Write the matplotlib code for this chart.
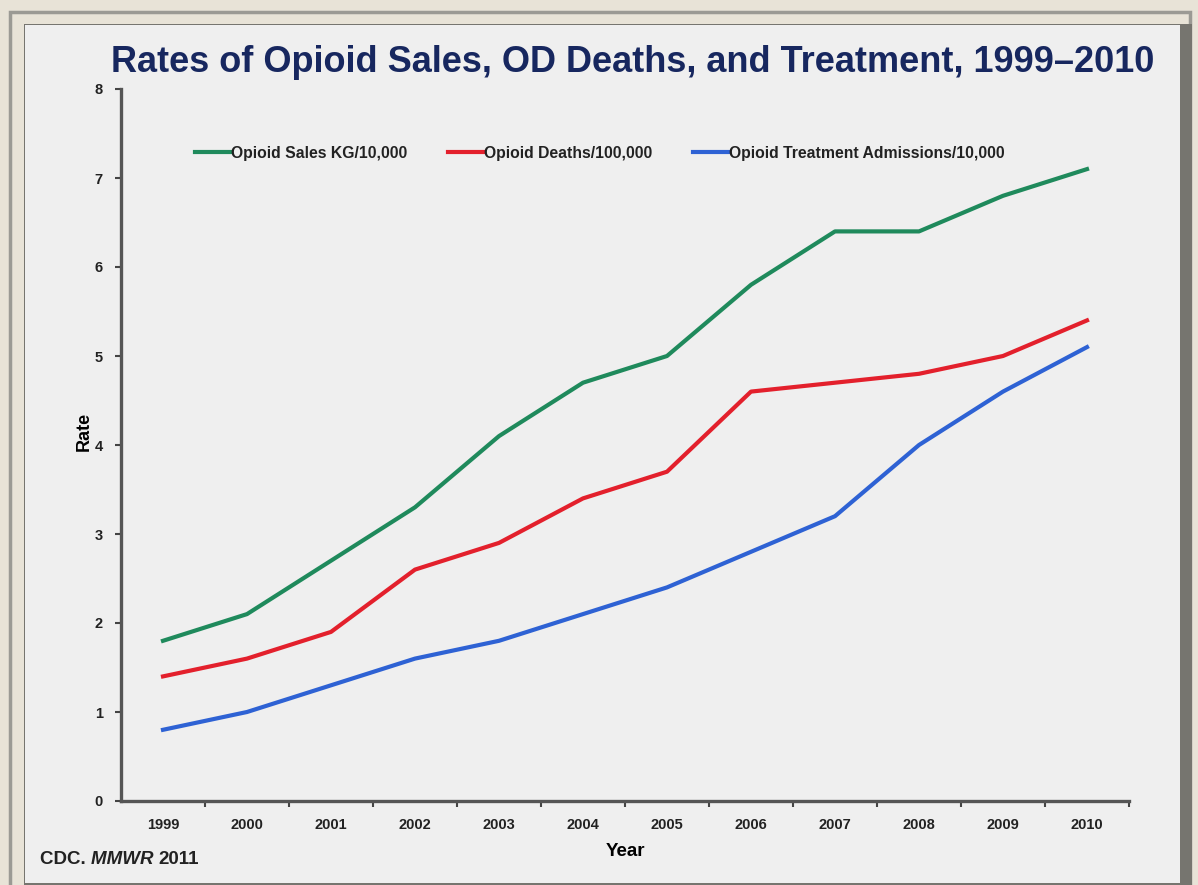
import matplotlib.pyplot as plt
from matplotlib.patches import Rectangle
from matplotlib.ticker import FixedLocator

years = ["1999", "2000", "2001", "2002", "2003", "2004",
         "2005", "2006", "2007", "2008", "2009", "2010"]
sales = [1.8, 2.1, 2.7, 3.3, 4.1, 4.7, 5.0, 5.8, 6.4, 6.4, 6.8, 7.1]
deaths = [1.4, 1.6, 1.9, 2.6, 2.9, 3.4, 3.7, 4.6, 4.7, 4.8, 5.0, 5.4]
admissions = [0.8, 1.0, 1.3, 1.6, 1.8, 2.1, 2.4, 2.8, 3.2, 4.0, 4.6, 5.1]

plt.rcParams['font.family'] = ['Liberation Sans', 'DejaVu Sans']

W, H = 1198, 885
fig = plt.figure(figsize=(W / 100, H / 100), dpi=100)
fig.patch.set_facecolor('#e8e3d7')

# frame and slide panel, in pixel units, kept behind the axes
def px_rect(x0, y0, x1, y1, **kw):
    fig.patches.append(Rectangle((x0 / W, 1 - y1 / H), (x1 - x0) / W, (y1 - y0) / H,
                                 transform=fig.transFigure, zorder=-5, **kw))

px_rect(10, 12, 1190, 890, facecolor='none', edgecolor='#9b9a94', linewidth=2.5)
px_rect(24, 24, 1192, 885, facecolor='#76756f', edgecolor='none')
px_rect(25, 25, 1180, 883, facecolor='#efefef', edgecolor='none')

ax = fig.add_axes([121 / W, 1 - 801 / H, (1129 - 121) / W, (801 - 89) / H])
ax.set_facecolor('none')

x = range(len(years))
ax.plot(x, sales, color='#1f8a5c', lw=3, label='Opioid Sales KG/10,000')
ax.plot(x, deaths, color='#e3202c', lw=3, label='Opioid Deaths/100,000')
ax.plot(x, admissions, color='#2e62d4', lw=3, label='Opioid Treatment Admissions/10,000')

ax.set_xlim(-0.5, len(years) - 0.5)
ax.set_ylim(0, 8)
ax.set_yticks(range(9))
ax.set_xticks(list(x))
ax.set_xticklabels(years)
ax.xaxis.set_minor_locator(FixedLocator([i + 0.5 for i in range(len(years))]))

for s in ['top', 'right']:
    ax.spines[s].set_visible(False)
for s in ['left', 'bottom']:
    ax.spines[s].set_color('#555555')
    ax.spines[s].set_linewidth(2.4)

ax.tick_params(axis='x', which='major', length=0, pad=12, labelsize=10.5, colors='#222222')
ax.tick_params(axis='x', which='minor', length=4, width=1.5, color='#444444', direction='out')
ax.tick_params(axis='y', length=4, width=1.5, color='#444444', pad=9, labelsize=10.5,
               labelcolor='#222222')
for lab in ax.get_xticklabels() + ax.get_yticklabels():
    lab.set_fontweight('bold')

ax.set_ylabel('Rate', fontsize=13, fontweight='bold')
ax.yaxis.set_label_coords(-28 / 1008, (801 - 431) / 712)
ax.set_xlabel('Year', fontsize=13.5, fontweight='bold', labelpad=8)

leg = ax.legend(loc='upper center', bbox_to_anchor=(0.5 - 25 / 1008, 0.94), ncol=3,
                frameon=False, handlelength=2.2, handletextpad=0.1, columnspacing=2.6,
                prop={'weight': 'bold', 'size': 11.3})
for t in leg.get_texts():
    t.set_color('#222222')

fig.text(633 / W, 1 - 63 / H, 'Rates of Opioid Sales, OD Deaths, and Treatment, 1999\u20132010',
         ha='center', va='center', fontsize=26, fontweight='bold', color='#17275f')

# source line: roman / italic / roman pieces placed one after another
renderer = fig.canvas.get_renderer()
xpos = 40
for piece, style in [('CDC. ', 'normal'), ('MMWR ', 'italic'), ('2011', 'normal')]:
    t = fig.text(xpos / W, 1 - 860 / H, piece, ha='left', va='center', fontsize=13.5,
                 fontweight='bold', style=style, color='#222222')
    xpos += t.get_window_extent(renderer).width

fig.savefig('out.png', dpi=100, facecolor=fig.get_facecolor())
